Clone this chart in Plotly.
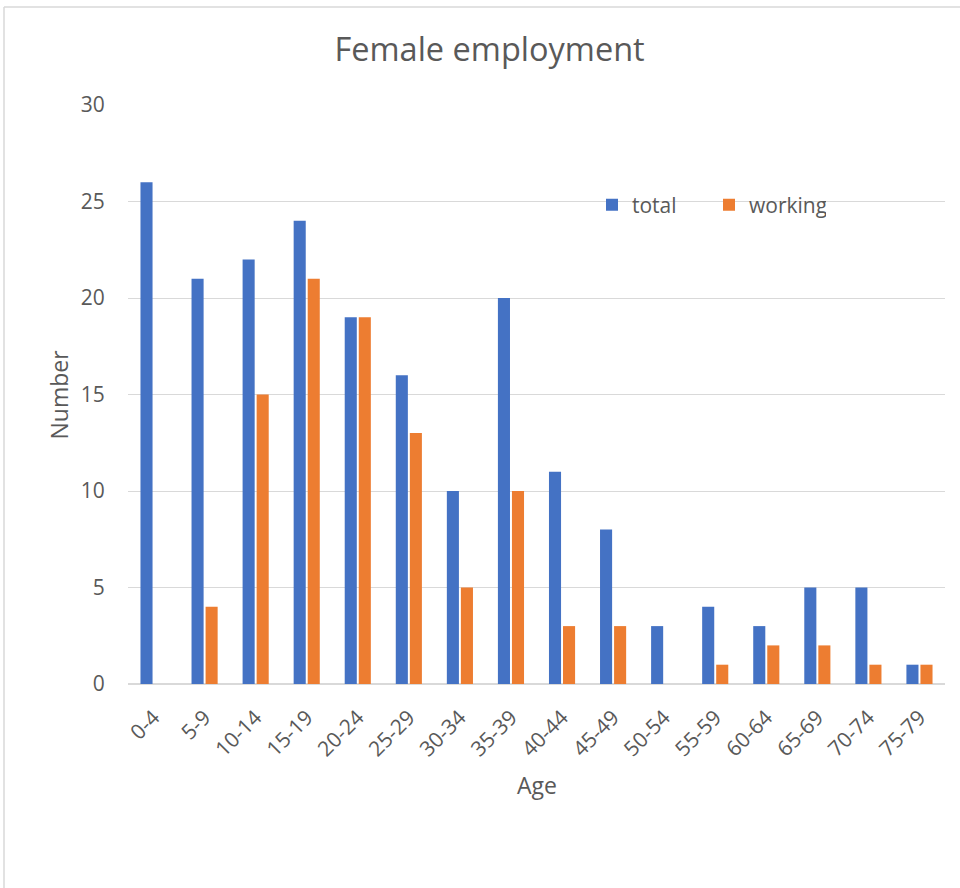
import plotly.graph_objects as go

# Age bands and counts of women
age_groups = ["0-4", "5-9", "10-14", "15-19", "20-24", "25-29", "30-34", "35-39",
              "40-44", "45-49", "50-54", "55-59", "60-64", "65-69", "70-74", "75-79"]
total = [26, 21, 22, 24, 19, 16, 10, 20, 11, 8, 3, 4, 3, 5, 5, 1]
working = [0, 4, 15, 21, 19, 13, 5, 10, 3, 3, 0, 1, 2, 2, 1, 1]

BLUE = "#4472C4"
ORANGE = "#ED7D31"
TEXT = "#595959"
GRID = "#D9D9D9"
FONT = "Open Sans"

W, H = 960, 888
L, R, T, B = 128, 15, 105, 204
pw, ph = W - L - R, H - T - B


def px_x(x):
    return (x - L) / pw


def px_y(y):
    return (H - B - y) / ph


fig = go.Figure()
fig.add_trace(go.Bar(name="total", x=age_groups, y=total, marker_color=BLUE,
                     marker_line_width=0))
fig.add_trace(go.Bar(name="working", x=age_groups, y=working, marker_color=ORANGE,
                     marker_line_width=0))

fig.update_layout(
    width=W, height=H,
    margin=dict(l=L, r=R, t=T, b=B, autoexpand=False),
    paper_bgcolor="white", plot_bgcolor="white",
    barmode="group", bargap=0.45, bargroupgap=0.14,
    font=dict(family=FONT, color=TEXT, size=20),
    title=dict(text="Female employment", x=0.51, xanchor="center",
               y=1 - 50 / H, yanchor="middle",
               font=dict(size=32.5, color=TEXT, family=FONT)),
    showlegend=True,
    legend=dict(orientation="h", x=px_x(592), xanchor="left",
                y=px_y(205), yanchor="middle",
                entrywidth=72, entrywidthmode="pixels",
                font=dict(size=21, color=TEXT), bgcolor="rgba(0,0,0,0)",
                traceorder="normal"),
)

fig.update_xaxes(
    tickangle=-45, ticks="outside", ticklen=12, tickcolor="rgba(0,0,0,0)",
    tickfont=dict(size=21, color=TEXT), showgrid=False,
    showline=False, zeroline=False,
)
fig.update_yaxes(
    range=[0, 30], dtick=5, tick0=0, showgrid=True, gridcolor=GRID, gridwidth=1.4,
    zeroline=True, zerolinecolor=GRID, zerolinewidth=1.6,
    ticks="outside", ticklen=18, tickcolor="rgba(0,0,0,0)",
    tickfont=dict(size=21, color=TEXT), showline=False,
)

# Axis titles
fig.add_annotation(text="Number", xref="paper", yref="paper",
                   x=px_x(58), y=0.5, xanchor="center", yanchor="middle",
                   textangle=-90, showarrow=False,
                   font=dict(size=23, color=TEXT, family=FONT))
fig.add_annotation(text="Age", xref="paper", yref="paper",
                   x=0.5, y=px_y(785), xanchor="center", yanchor="middle",
                   showarrow=False, font=dict(size=23, color=TEXT, family=FONT))

# Chart frame
fig.add_shape(type="line", xref="paper", yref="paper",
              x0=px_x(4), x1=px_x(962), y0=px_y(7), y1=px_y(7),
              line=dict(color=GRID, width=1.5))
fig.add_shape(type="line", xref="paper", yref="paper",
              x0=px_x(4), x1=px_x(4), y0=px_y(7), y1=px_y(890),
              line=dict(color=GRID, width=1.5))

fig.write_html("out.html")
